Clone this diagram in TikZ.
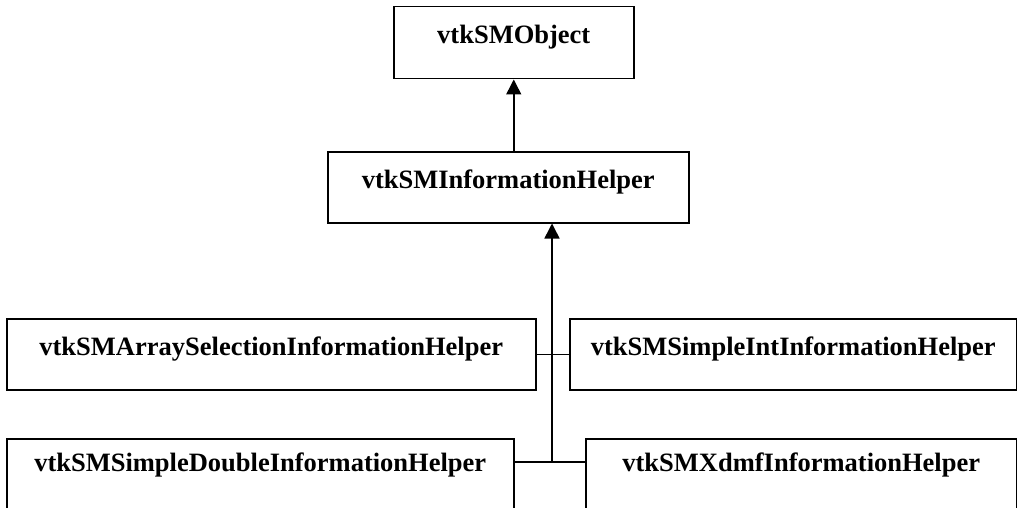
\documentclass[tikz,border=0pt]{standalone}
\usepackage{fontspec}
\setmainfont{Liberation Serif}
\usetikzlibrary{arrows.meta}

\begin{document}
\begin{tikzpicture}[x=1pt,y=1pt,
	classbox/.style={draw, line width=1.5pt, anchor=north west, inner sep=0pt,
		font=\fontsize{26.5}{30}\selectfont\bfseries, text height=37pt},
	inherit/.style={line width=1.5pt, -{Triangle[length=15pt,width=15pt]}},
	link/.style={line width=1.5pt}]
	\useasboundingbox (0,0) rectangle (1017,-508);
	%classes
		\node[classbox, minimum width=240pt, text depth=35pt] (obj) at (393,-6) {vtkSMObject};
		\node[classbox, minimum width=361pt, text depth=34pt] (info) at (327,-151) {vtkSMInformationHelper};
		\node[classbox, minimum width=529pt, text depth=34pt] (array) at (6,-318) {vtkSMArraySelectionInformationHelper};
		\node[classbox, minimum width=447pt, text depth=34pt] (int) at (569,-318) {vtkSMSimpleIntInformationHelper};
		\node[classbox, minimum width=507pt, text depth=53pt, text height=33pt] (dbl) at (6,-438) {vtkSMSimpleDoubleInformationHelper};
		\node[classbox, minimum width=431pt, text depth=53pt, text height=33pt] (xdmf) at (585,-438) {vtkSMXdmfInformationHelper};
	%inheritance
		\coordinate (j) at (552,-462);
		\draw[inherit] (info.north -| obj.south) -- (obj.south);
		\draw[inherit] (j) -- (j |- info.south);
		\draw[link] (array.east) -- (int.west);
		\draw[link] (dbl.east |- j) -- (xdmf.west |- j);
\end{tikzpicture}
\end{document}
